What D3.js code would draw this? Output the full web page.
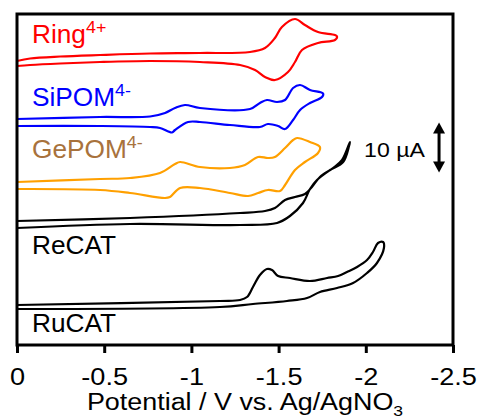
<!DOCTYPE html>
<html>
<head>
<meta charset="utf-8">
<script src="https://cdn.jsdelivr.net/npm/d3@7/dist/d3.min.js"></script>
<style>
  html, body { margin: 0; padding: 0; background: #fff; }
  svg { display: block; font-family: "Liberation Sans", Arial, sans-serif; }
</style>
</head>
<body>
<svg id="chart" width="478" height="420"></svg>
<script>
// ---- Data (potential in V vs Ag/AgNO3, current in µA incl. vertical offset) ----
const xTicks = [0, -0.5, -1, -1.5, -2, -2.5];
const xTickLabels = ["0", "-0.5", "-1", "-1.5", "-2", "-2.5"];

const ringV = [0, -0.075, -0.247, -0.476, -0.763, -1.049, -1.336, -1.422, -1.479, -1.519, -1.594, -1.651, -1.726, -1.823, -1.835,
  -1.823, -1.726, -1.634, -1.594, -1.554, -1.479, -1.422, -1.365, -1.279, -1.049, -0.763, -0.476, -0.247, -0.075, 0];
const ringI = [56.8, 57.3, 57.7, 58.0, 58.3, 58.4, 58.6, 59.4, 61.4, 63.6, 65.2, 64.0, 62.6, 62.0, 61.7,
  61.0, 60.4, 59.0, 56.6, 54.6, 53.0, 53.6, 55.0, 56.0, 56.6, 56.8, 56.6, 56.3, 56.0, 55.8];

const siV = [0, -0.476, -0.763, -0.849, -0.906, -0.963, -1.049, -1.336, -1.393, -1.433, -1.491, -1.537, -1.583, -1.623, -1.680, -1.755,
  -1.749, -1.680, -1.623, -1.583, -1.537, -1.497, -1.439, -1.393, -1.221, -1.049, -0.981, -0.906, -0.889, -0.820, -0.763, -0.476, 0];
const siI = [45.2, 45.6, 45.7, 46.4, 47.4, 48.0, 47.4, 47.2, 48.4, 49.0, 48.6, 49.0, 51.4, 52.0, 51.0, 50.3,
  49.6, 48.4, 47.0, 45.0, 43.2, 43.8, 44.2, 43.6, 44.0, 44.6, 44.6, 43.0, 42.5, 43.4, 43.6, 43.8, 43.8];

const geV = [0, -0.476, -0.648, -0.820, -0.906, -0.935, -1.049, -1.221, -1.307, -1.382, -1.439, -1.479, -1.537, -1.583, -1.606, -1.680, -1.737,
  -1.726, -1.651, -1.594, -1.537, -1.508, -1.439, -1.382, -1.325, -1.221, -1.049, -0.935, -0.877, -0.849, -0.648, -0.476, 0];
const geI = [32.6, 33.2, 33.4, 34.4, 36.2, 36.6, 35.6, 35.4, 36.0, 37.6, 37.4, 37.6, 39.4, 41.0, 41.4, 40.6, 39.6,
  38.4, 36.6, 35.0, 32.0, 30.8, 31.0, 30.4, 29.8, 30.4, 31.4, 31.4, 29.6, 29.4, 30.4, 31.0, 31.2];

const reV = [0, -0.648, -1.279, -1.422, -1.479, -1.537, -1.594, -1.651, -1.691, -1.737, -1.812, -1.864, -1.909,
  -1.904, -1.870, -1.795, -1.720, -1.680, -1.640, -1.565, -1.491, -1.279, -0.648, 0];
const reI = [24.8, 25.4, 26.4, 26.8, 27.4, 29.0, 29.6, 30.2, 31.6, 33.6, 35.4, 37.0, 40.6,
  39.8, 36.6, 35.0, 33.0, 31.2, 28.4, 25.8, 24.4, 24.0, 24.2, 23.4];

const ruV = [0, -1.164, -1.279, -1.319, -1.353, -1.393, -1.433, -1.462, -1.497, -1.565, -1.680, -1.778, -1.841, -1.892, -1.950, -2.007, -2.041, -2.070, -2.099,
  -2.104, -2.064, -2.007, -1.927, -1.835, -1.737, -1.663, -1.548, -1.353, -1.164, 0];
const ruI = [8.0, 8.8, 9.0, 9.6, 11.6, 14.0, 15.2, 15.0, 13.8, 13.4, 12.8, 13.4, 13.8, 14.6, 15.6, 17.0, 18.6, 20.4, 20.6,
  19.4, 16.4, 14.4, 12.4, 11.4, 10.6, 9.4, 8.8, 8.2, 7.6, 7.2];

const seriesNames = ["Ring", "SiPOM", "GePOM", "ReCAT", "RuCAT"];
const seriesSup = ["4+", "4-", "4-", "", ""];
const seriesColors = ["#ff0000", "#0000ff", "#ffa000", "#000000", "#000000"];
const labelColors = ["#ff0000", "#0000ff", "#a8723c", "#000000", "#000000"];
const scaleBarValue = 10; // µA
const scaleBarLabel = "10 µA";
const xTitle = "Potential / V vs. Ag/AgNO";
const xTitleSub = "3";

// ---- Layout ----
const mLeft = 17, mRight = 453, mTop = 14, mBottom = 345;
const svg = d3.select("#chart");

const x = d3.scaleLinear().domain([0, -2.5]).range([mLeft, mRight]);
const y = d3.scaleLinear().domain([0, 66.2]).range([mBottom, mTop]);

const series = [
  {V: ringV, I: ringI}, {V: siV, I: siI}, {V: geV, I: geI}, {V: reV, I: reI}, {V: ruV, I: ruI}
];

const line = d3.line()
  .x(d => x(d[0])).y(d => y(d[1]))
  .curve(d3.curveCatmullRom.alpha(0.5));

series.forEach((s, i) => {
  const pts = s.V.map((v, k) => [v, s.I[k]]);
  svg.append("path")
    .attr("d", line(pts))
    .attr("fill", "none")
    .attr("stroke", seriesColors[i])
    .attr("stroke-width", 2.2)
    .attr("stroke-linejoin", "round")
    .attr("stroke-linecap", "round");
});

// frame
svg.append("rect")
  .attr("x", mLeft).attr("y", mTop)
  .attr("width", mRight - mLeft).attr("height", mBottom - mTop)
  .attr("fill", "none").attr("stroke", "#000").attr("stroke-width", 3);

// bottom axis
const ax = svg.append("g")
  .attr("transform", `translate(0,${mBottom})`)
  .call(d3.axisBottom(x).tickValues(xTicks)
    .tickFormat((d, i) => xTickLabels[i])
    .tickSize(8).tickSizeOuter(0).tickPadding(10));
ax.select(".domain").remove();
ax.selectAll(".tick line").attr("stroke", "#000").attr("stroke-width", 3);
ax.selectAll(".tick text")
  .attr("fill", "#000")
  .attr("font-size", 23)
  .attr("font-family", "Liberation Sans, Arial, sans-serif")
  .attr("y", 0).attr("dy", 0)
  .attr("transform", "translate(0,40) scale(1.18,1)");

// x-axis title
const tt = svg.append("text")
  .attr("transform", `translate(${(mLeft + mRight) / 2 + 10},410) scale(1.17,1)`)
  .attr("text-anchor", "middle")
  .attr("font-size", 23)
  .attr("fill", "#000");
tt.append("tspan").text(xTitle);
tt.append("tspan").attr("font-size", 15).attr("dy", 6).text(xTitleSub);

// series labels
const labelPos = [
  {v: -0.086, i: 60.4},
  {v: -0.086, i: 47.8},
  {v: -0.086, i: 37.4},
  {v: -0.086, i: 18.2},
  {v: -0.086, i: 2.6}
];
seriesNames.forEach((n, i) => {
  const t = svg.append("text")
    .attr("transform", `translate(${x(labelPos[i].v)},${y(labelPos[i].i)}) scale(1.05,1)`)
    .attr("font-size", 25)
    .attr("fill", labelColors[i]);
  t.append("tspan").text(n);
  if (seriesSup[i]) t.append("tspan").attr("font-size", 17).attr("dy", -10).text(seriesSup[i]);
});

// scale bar
const barV = -2.42, barMid = 39.5;
const by1 = y(barMid + scaleBarValue / 2), by2 = y(barMid - scaleBarValue / 2);
const bx = x(barV);
svg.append("line")
  .attr("x1", bx).attr("x2", bx).attr("y1", by1 + 8).attr("y2", by2 - 8)
  .attr("stroke", "#000").attr("stroke-width", 3);
svg.append("path")
  .attr("d", `M${bx},${by1} L${bx - 6},${by1 + 11} L${bx + 6},${by1 + 11} Z`)
  .attr("fill", "#000");
svg.append("path")
  .attr("d", `M${bx},${by2} L${bx - 6},${by2 - 11} L${bx + 6},${by2 - 11} Z`)
  .attr("fill", "#000");
svg.append("text")
  .attr("transform", `translate(${x(-1.99)},${y(37.6)}) scale(1.1,1)`)
  .attr("font-size", 21)
  .attr("fill", "#000")
  .text(scaleBarLabel);
</script>
</body>
</html>
